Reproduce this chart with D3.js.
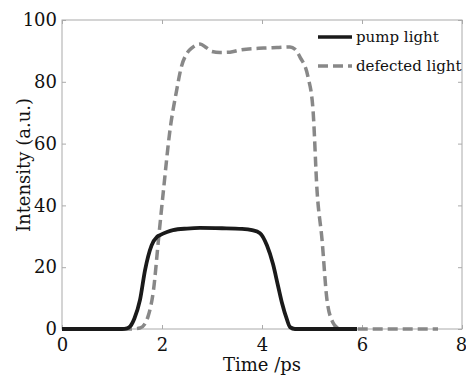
<!DOCTYPE html>
<html>
<head>
<meta charset="utf-8">
<script src="https://cdn.jsdelivr.net/npm/d3@7"></script>
<style>
  body { margin: 0; background: #fff; }
  svg text { font-family: "DejaVu Serif", serif; fill: #111; }
</style>
</head>
<body>
<div id="chart"></div>
<script>
// values
var xTicks = [0, 2, 4, 6, 8];
var yTicks = [0, 20, 40, 60, 80, 100];

var pumpT = [0, 0.3, 0.6, 0.9, 1.2, 1.3, 1.36, 1.45, 1.56, 1.66, 1.79, 1.9, 1.96, 2.1, 2.22, 2.5, 2.76, 3.2, 3.6, 3.8, 3.96, 4.1, 4.22, 4.32, 4.4, 4.5, 4.56, 4.66, 5.0, 5.5, 5.9];
var pumpI = [0, 0, 0, 0, 0, 0.2, 0.8, 3.5, 9.4, 19, 27, 29.8, 30.4, 31.4, 32, 32.5, 32.7, 32.6, 32.4, 32, 31, 27, 21, 14, 8.4, 3, 0.6, 0, 0, 0, 0];

var defT = [0, 0.5, 1.0, 1.4, 1.56, 1.65, 1.72, 1.83, 1.93, 2.03, 2.16, 2.29, 2.39, 2.49, 2.6, 2.76, 2.89, 3.0, 3.16, 3.36, 3.56, 4.03, 4.3, 4.56, 4.66, 4.76, 4.92, 5.02, 5.1, 5.2, 5.3, 5.42, 5.5, 5.6, 6.0, 6.5, 7.0, 7.52];
var defI = [0, 0, 0, 0, 0.3, 1.5, 4, 12.6, 29, 45, 64.4, 77, 85, 89, 91, 92.2, 91, 89.8, 89.5, 89.6, 90.3, 90.9, 91.1, 91.3, 90.5, 88, 81.6, 71, 45, 29, 9.4, 2, 0.5, 0, 0, 0, 0, 0];

var seriesNames = ["pump light", "defected light"];

var width = 466, height = 377;
var margin = { top: 20, right: 4, bottom: 48, left: 62 };
var w = width - margin.left - margin.right,
    h = height - margin.top - margin.bottom;

var svg = d3.select("#chart").append("svg")
    .attr("width", width)
    .attr("height", height);

var g = svg.append("g")
    .attr("transform", "translate(" + margin.left + "," + margin.top + ")");

var x = d3.scaleLinear().domain([0, 8]).range([0, 400]);
var y = d3.scaleLinear().domain([0, 100]).range([h, 0]);

// frame
g.append("rect")
    .attr("width", x(8)).attr("height", h)
    .attr("fill", "none").attr("stroke", "#aaa").attr("stroke-width", 1);

// inward ticks on all four sides
function tickMarks(axis, transform) {
    var a = g.append("g").attr("transform", transform).call(axis);
    a.select(".domain").remove();
    a.selectAll(".tick line").attr("stroke", "#aaa");
    a.selectAll(".tick text")
        .attr("fill", "#111")
        .style("font-family", "'DejaVu Serif', serif")
        .style("font-size", "18px");
    return a;
}
var xb = tickMarks(d3.axisBottom(x).tickValues(xTicks).tickSize(-4).tickPadding(9), "translate(0," + h + ")");
xb.selectAll(".tick text").filter(function(d) { return d === 8; }).attr("dx", "-1px");
tickMarks(d3.axisTop(x).tickValues(xTicks).tickSize(-4).tickFormat(""), "translate(0,0)");
tickMarks(d3.axisLeft(y).tickValues(yTicks).tickSize(-4).tickPadding(5), "translate(0,0)");
tickMarks(d3.axisRight(y).tickValues(yTicks).tickSize(-4).tickFormat(""), "translate(" + x(8) + ",0)");

// curves
var line = d3.line()
    .x(function(d) { return x(d[0]); })
    .y(function(d) { return y(d[1]); })
    .curve(d3.curveMonotoneX);

g.append("path")
    .datum(defT.map(function(t, i) { return [t, defI[i]]; }))
    .attr("d", line)
    .attr("fill", "none")
    .attr("stroke", "#888")
    .attr("stroke-width", 3.5)
    .attr("stroke-dasharray", "10,5");

g.append("path")
    .datum(pumpT.map(function(t, i) { return [t, pumpI[i]]; }))
    .attr("d", line)
    .attr("fill", "none")
    .attr("stroke", "#1a1a1a")
    .attr("stroke-width", 3.8);

// legend
var legend = g.append("g").attr("transform", "translate(256,17)");
var styles = [{ c: "#1a1a1a", dash: null }, { c: "#888", dash: "10,5" }];
seriesNames.forEach(function(n, i) {
    var row = legend.append("g").attr("transform", "translate(0," + (i * 29) + ")");
    row.append("line")
        .attr("x1", 0).attr("x2", 34)
        .attr("stroke", styles[i].c)
        .attr("stroke-width", 3.5)
        .attr("stroke-dasharray", styles[i].dash);
    row.append("text")
        .attr("x", 38).attr("dy", "0.32em")
        .style("font-size", "15px")
        .text(n);
});

// axis labels
svg.append("text")
    .attr("x", margin.left + x(4)).attr("y", 371)
    .attr("text-anchor", "middle")
    .style("font-size", "18px")
    .text("Time /ps");

svg.append("text")
    .attr("transform", "translate(30,165) rotate(-90)")
    .attr("text-anchor", "middle")
    .style("font-size", "18px")
    .text("Intensity (a.u.)");
</script>
</body>
</html>
